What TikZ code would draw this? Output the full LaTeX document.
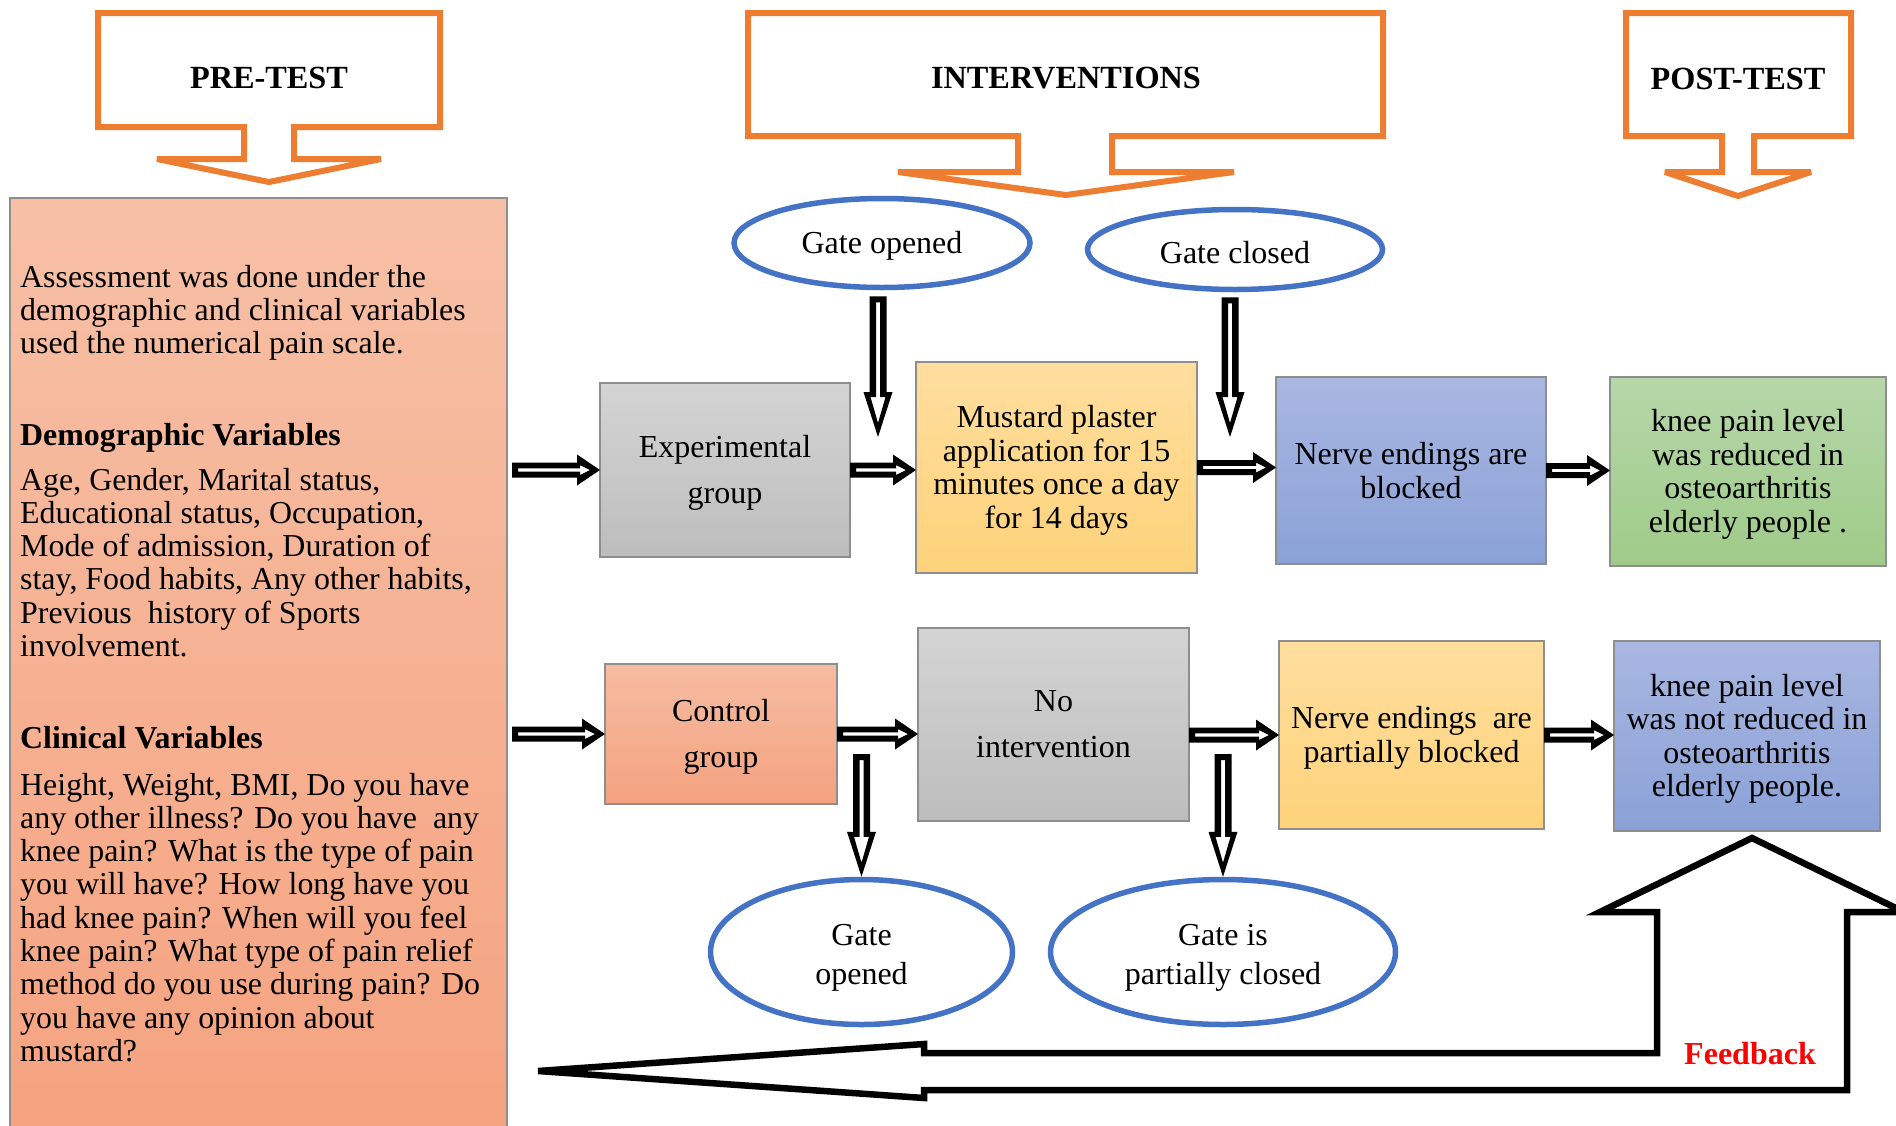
\documentclass[tikz,border=0pt]{standalone}
\usepackage{fontspec}
\setmainfont{Liberation Serif}
\usetikzlibrary{calc,shapes.geometric}
\definecolor{orng}{HTML}{ED7D31}
\definecolor{ellblue}{HTML}{4472C4}
\definecolor{boxline}{HTML}{8E8E8E}
\definecolor{grayT}{HTML}{D4D4D4}
\definecolor{grayB}{HTML}{BDBDBD}
\definecolor{yelT}{HTML}{FFDE9E}
\definecolor{yelB}{HTML}{FDD27A}
\definecolor{bluT}{HTML}{A9B7E1}
\definecolor{bluB}{HTML}{8AA1D7}
\definecolor{grnT}{HTML}{B6D7A9}
\definecolor{grnB}{HTML}{9FCB89}
\definecolor{salT}{HTML}{F6BCA2}
\definecolor{salB}{HTML}{F4A27F}
\definecolor{panT}{HTML}{F7C0A6}
\definecolor{panB}{HTML}{F5A380}
\newcommand\tsh{\rule{0pt}{28pt}}
\newcommand\tshb{\rule{0pt}{33pt}}
\begin{document}
\begin{tikzpicture}[x=1pt,y=-1pt,
  flowbox/.style={rectangle,draw=boxline,line width=1.4pt,inner sep=0pt,outer sep=0pt,
    align=center,font=\fontsize{32}{33.5}\selectfont},
  wide/.style={font=\fontsize{32}{46}\selectfont},
  gbox/.style={flowbox,top color=grayT,bottom color=grayB},
  ybox/.style={flowbox,top color=yelT,bottom color=yelB},
  bbox/.style={flowbox,top color=bluT,bottom color=bluB},
  grbox/.style={flowbox,top color=grnT,bottom color=grnB},
  sbox/.style={flowbox,top color=salT,bottom color=salB},
  gate/.style={ellipse,draw=ellblue,line width=5.5pt,fill=white,inner sep=0pt,align=center,
    font=\fontsize{32}{39}\selectfont},
  callout/.style={draw=orng,line width=6pt,fill=white,line join=miter,miter limit=4},
  hdr/.style={font=\bfseries\fontsize{32.3}{32.3}\selectfont,inner sep=0pt},
  ptxt/.style={anchor=base west,inner sep=0pt,font=\fontsize{31.9}{33.3}\selectfont},
  harrow/.style={fill=black,even odd rule,to path={
    let \p1=(\tikztostart), \p2=(\tikztotarget) in
    (\x1,\y1+7.5pt) -- (\x2-23pt,\y1+7.5pt) -- (\x2-23pt,\y1+15.5pt) -- (\x2,\y1)
    -- (\x2-23pt,\y1-15.5pt) -- (\x2-23pt,\y1-7.5pt) -- (\x1,\y1-7.5pt) -- cycle
    (\x1+6pt,\y1+1.6pt) -- (\x2-20pt,\y1+1.6pt) -- (\x2-20pt,\y1+5pt) -- (\x2-10pt,\y1)
    -- (\x2-20pt,\y1-5pt) -- (\x2-20pt,\y1-1.6pt) -- (\x1+6pt,\y1-1.6pt) -- cycle}},
  varrow/.style={fill=black,even odd rule,to path={
    let \p1=(\tikztostart), \p2=(\tikztotarget) in
    (\x2-8.5pt,\y1) -- (\x2+8.5pt,\y1) -- (\x2+8.5pt,\y2+45pt) -- (\x2+14.5pt,\y2+45pt)
    -- (\x2,\y2) -- (\x2-14.5pt,\y2+45pt) -- (\x2-8.5pt,\y2+45pt) -- cycle
    (\x2-2pt,\y1-6pt) -- (\x2+2pt,\y1-6pt) -- (\x2+2pt,\y2+40pt) -- (\x2+7.5pt,\y2+40pt)
    -- (\x2,\y2+14pt) -- (\x2-7.5pt,\y2+40pt) -- (\x2-2pt,\y2+40pt) -- cycle}}
]
\fill[white] (0,0) rectangle (1896,1125);
\useasboundingbox (0,0) rectangle (1896,1125);

% header callouts
\draw[callout] (98,13) -- (440,13) -- (440,127) -- (294,127) -- (294,159) -- (381,159)
  -- (269,182) -- (157,159) -- (244,159) -- (244,127) -- (98,127) -- cycle;
\node[hdr] (pre) at (269,78) {PRE-TEST};
\draw[callout] (748,13) -- (1383,13) -- (1383,136) -- (1112,136) -- (1112,172) -- (1234,172)
  -- (1066,195) -- (898,172) -- (1018,172) -- (1018,136) -- (748,136) -- cycle;
\node[hdr] (intv) at (1066,78) {INTERVENTIONS};
\draw[callout] (1626,13) -- (1851,13) -- (1851,136) -- (1754,136) -- (1754,172) -- (1811,172)
  -- (1738,196) -- (1665,172) -- (1722,172) -- (1722,136) -- (1626,136) -- cycle;
\node[hdr] (post) at (1738,79) {POST-TEST};

% left panel
\node[rectangle,draw=boxline,line width=1.4pt,top color=panT,bottom color=panB,
  minimum width=497,minimum height=932,anchor=north west,inner sep=0pt,outer sep=0pt]
  (pan) at (10,198) {};
\node[ptxt] (p1) at (20,287) {\vtop{\hbox{Assessment was done under the}
  \hbox{demographic and clinical variables}\hbox{used the numerical pain scale.}}};
\node[ptxt,font=\bfseries\fontsize{31.9}{33.3}\selectfont] (p2) at (20,445) {Demographic Variables};
\node[ptxt] (p3) at (20,490) {\vtop{\hbox{Age, Gender, Marital status,}
  \hbox{Educational status, Occupation,}\hbox{Mode of admission, Duration of}
  \hbox{stay, Food habits, Any other habits,}\hbox{Previous\ \ history of Sports}
  \hbox{involvement.}}};
\node[ptxt,font=\bfseries\fontsize{31.9}{33.3}\selectfont] (p4) at (20,748) {Clinical Variables};
\node[ptxt] (p5) at (20,795) {\vtop{\hbox{Height, Weight, BMI, Do you have}
  \hbox{any other illness? Do you have\ \ any}\hbox{knee pain? What is the type of pain}
  \hbox{you will have? How long have you}\hbox{had knee pain? When will you feel}
  \hbox{knee pain? What type of pain relief}\hbox{method do you use during pain? Do}
  \hbox{you have any opinion about}\hbox{mustard?}}};

% upper row
\node[gbox,wide,minimum width=250,minimum height=174] (exp) at (725,470) {\tsh Experimental\\group};
\node[ybox,minimum width=281,minimum height=211] (mus) at (1056.5,467.5)
  {\tsh Mustard plaster\\application for 15\\minutes once a day\\for 14 days};
\node[bbox,minimum width=270,minimum height=187] (nerv) at (1411,470.5) {Nerve endings are\\blocked};
\node[grbox,minimum width=276,minimum height=189] (grn) at (1748,471.5)
  {\tsh knee pain level\\was reduced in\\osteoarthritis\\elderly people .};

% lower row
\node[sbox,wide,minimum width=232,minimum height=140] (ctl) at (721,734) {\tsh Control\\group};
\node[gbox,wide,minimum width=271,minimum height=193] (noi) at (1053.5,724.5) {No\\intervention};
\node[ybox,minimum width=265,minimum height=188] (nrvp) at (1411.5,735)
  {\tsh Nerve endings\ \ are\\partially blocked};
\node[bbox,minimum width=266,minimum height=190] (blu) at (1747,736)
  {\tsh knee pain level\\was not reduced in\\osteoarthritis\\elderly people.};

% gates
\node[gate,minimum width=296,minimum height=89] (ego) at (882,243) {\tsh Gate opened};
\node[gate,minimum width=295,minimum height=80] (egc) at (1235,249.5) {\tsh Gate closed};
\node[gate,minimum width=302,minimum height=145] (glo) at (861.5,952) {\tshb Gate\\opened};
\node[gate,minimum width=345,minimum height=145] (gpc) at (1223,952) {\tshb Gate is\\partially closed};

% horizontal connectors
\path[harrow] ([xshift=5pt]pan.east |- exp.west) to (exp.west);
\path[harrow] (exp.east) to (mus.west);
\path[harrow] (mus.east) to (nerv.west);
\path[harrow] (nerv.east) to (grn.west);
\path[harrow] ([xshift=5pt]pan.east |- ctl.west) to (ctl.west);
\path[harrow] (ctl.east) to (noi.west);
\path[harrow] (noi.east |- nrvp.west) to (nrvp.west);
\path[harrow] (nrvp.east) to (blu.west);

% vertical connectors
\coordinate (t1) at (878,437);
\coordinate (t2) at (1230,437);
\coordinate (s1) at (863,754);
\coordinate (s2) at (1226,754);
\path[varrow] ([yshift=-6pt]ego.south) to (t1);
\path[varrow] ([yshift=-5pt]egc.south) to (t2);
\path[varrow] (s1) to (glo.north);
\path[varrow] (s2) to (gpc.north);

% feedback arrow
\draw[line width=6.5pt,line join=miter,miter limit=6] (538,1071) -- (924,1044) -- (924,1053)
  -- (1657,1053) -- (1657,912) -- (1600,912) -- (1752,838) -- (1904,912) -- (1847,912)
  -- (1847,1090) -- (924,1090) -- (924,1098) -- cycle;
\node[font=\bfseries\fontsize{32}{32}\selectfont,text=red,inner sep=0pt] (fb) at (1750,1054) {Feedback};
\end{tikzpicture}
\end{document}
